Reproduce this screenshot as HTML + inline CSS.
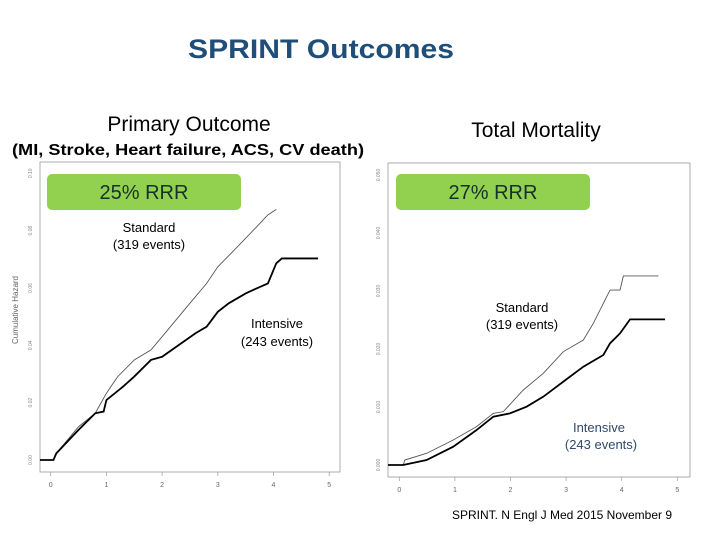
<!DOCTYPE html>
<html><head><meta charset="utf-8"><style>
body{margin:0;background:#fff;}
svg{display:block;font-family:"Liberation Sans",sans-serif;}
</style></head><body>
<svg id="s" width="720" height="540" viewBox="0 0 720 540">
<text x="321" y="58" text-anchor="middle" font-size="27" font-weight="bold" fill="#1f4e79" textLength="266" lengthAdjust="spacingAndGlyphs">SPRINT Outcomes</text>
<text x="189" y="131" text-anchor="middle" font-size="21" fill="#000">Primary Outcome</text>
<text x="188" y="155" text-anchor="middle" font-size="16" font-weight="bold" fill="#000" textLength="352" lengthAdjust="spacingAndGlyphs">(MI, Stroke, Heart failure, ACS, CV death)</text>
<text x="536" y="137" text-anchor="middle" font-size="21" fill="#000">Total Mortality</text>
<g id="left"></g>
<g id="right"></g>
<text x="18" y="310" text-anchor="middle" font-size="8" fill="#666" transform="rotate(-90 18 310)">Cumulative Hazard</text>
<rect x="47" y="174" width="194" height="36" rx="5" fill="#92d050"/>
<text x="144" y="199" text-anchor="middle" font-size="20" fill="#17302a">25% RRR</text>
<rect x="396" y="174" width="194" height="36" rx="5" fill="#92d050"/>
<text x="493" y="199" text-anchor="middle" font-size="20" fill="#17302a">27% RRR</text>
<g font-size="13" text-anchor="middle">
<text x="149" y="232">Standard</text>
<text x="149" y="249">(319 events)</text>
<text x="277" y="328">Intensive</text>
<text x="277" y="346">(243 events)</text>
<text x="522" y="312">Standard</text>
<text x="522" y="329">(319 events)</text>
<text x="599" y="432" fill="#2f4a6a">Intensive</text>
<text x="601" y="449" fill="#2f4a6a">(243 events)</text>
</g>
<text x="562" y="519" text-anchor="middle" font-size="12">SPRINT. N Engl J Med 2015 November 9</text>
</svg>
<script>
const xTicks=[0,1,2,3,4,5];
const leftYTicks=[0,0.02,0.04,0.06,0.08,0.10];
const leftYLabels=["0.00","0.02","0.04","0.06","0.08","0.10"];
const rightYTicks=[0,0.01,0.02,0.03,0.04,0.05];
const rightYLabels=["0.000","0.010","0.020","0.030","0.040","0.050"];
const leftStdT=[0,0.05,0.1,0.5,0.8,1,1.2,1.5,1.8,2,2.5,2.8,3,3.3,3.7,3.9,4.05];
const leftStdV=[0,0,0.0023,0.0116,0.0163,0.0233,0.029,0.0349,0.0384,0.043,0.0547,0.0616,0.0674,0.0733,0.0814,0.0855,0.0874];
const leftIntT=[0,0.05,0.1,0.5,0.8,0.95,1,1.3,1.5,1.8,2,2.3,2.6,2.8,3,3.2,3.5,3.7,3.9,4,4.05,4.15,4.8];
const leftIntV=[0,0,0.0023,0.0105,0.0163,0.0169,0.0209,0.0256,0.0291,0.0349,0.036,0.0401,0.0442,0.0465,0.0517,0.0547,0.0581,0.0599,0.0616,0.0663,0.0686,0.0703,0.0703];
const rightStdT=[0,0.07,0.1,0.49,0.97,1.39,1.69,1.87,2.23,2.59,2.95,3.31,3.49,3.73,3.79,3.97,4.03,4.66];
const rightStdV=[0,0,0.00086,0.00201,0.00431,0.00661,0.0089,0.0092,0.01293,0.0158,0.01954,0.02155,0.02443,0.02902,0.03017,0.03017,0.03259,0.03259];
const rightIntT=[0,0.07,0.49,0.97,1.39,1.69,1.99,2.29,2.59,2.95,3.31,3.67,3.79,3.97,4.15,4.78];
const rightIntV=[0,0,0.00086,0.00316,0.00603,0.00833,0.0089,0.01006,0.01178,0.01437,0.01695,0.01897,0.02098,0.0227,0.02511,0.02511];
const NS="http://www.w3.org/2000/svg";
function mk(tag,attrs,parent){const e=document.createElementNS(NS,tag);for(const k in attrs)e.setAttribute(k,attrs[k]);parent.appendChild(e);return e;}
function chart(g,cfg,yTicks,yLabels,std,int){
  const X=t=>cfg.x0+t*cfg.xs, Y=v=>cfg.y0-v*cfg.ys;
  const frame=mk('rect',{x:cfg.fx,y:cfg.fy,width:cfg.fw,height:cfg.fh,fill:'none',stroke:'#999','stroke-width':0.8},g);
  
  
  xTicks.forEach(t=>{
    const tk=mk('line',{x1:X(t),x2:X(t),y1:cfg.fy+cfg.fh,y2:cfg.fy+cfg.fh+4,stroke:'#999','stroke-width':0.7},g);
    
    
    const tl=mk('text',{x:X(t),y:cfg.fy+cfg.fh+15,'font-size':7,fill:'#666','text-anchor':'middle'},g);
    tl.textContent=t;
    
    
  });
  yTicks.forEach((v,i)=>{
    const y=Y(v);
    const tl=mk('text',{x:cfg.fx-8,y:y,'font-size':5,fill:'#888','text-anchor':'middle',transform:`rotate(-90 ${cfg.fx-8} ${y})`},g);
    tl.textContent=yLabels[i];
    
    
  });
  function line(T,V){let d=`M${cfg.fx} ${Y(V[0])}`;for(let i=0;i<T.length;i++){d+=` L${X(T[i])} ${Y(V[i])}`;}return d;}
  const s=mk('path',{d:line(std[0],std[1]),fill:'none',stroke:'#555','stroke-width':0.9},g);
  
  
  const n=mk('path',{d:line(int[0],int[1]),fill:'none',stroke:'#000','stroke-width':1.8},g);
  
  
}
chart(document.getElementById('left'),{x0:50.7,xs:55.7,y0:460,ys:2867,fx:40,fy:162,fw:300,fh:310},leftYTicks,leftYLabels,[leftStdT,leftStdV],[leftIntT,leftIntV]);
chart(document.getElementById('right'),{x0:399.3,xs:55.6,y0:465,ys:5800,fx:388,fy:163,fw:302,fh:314},rightYTicks,rightYLabels,[rightStdT,rightStdV],[rightIntT,rightIntV]);
</script>
</body></html>
